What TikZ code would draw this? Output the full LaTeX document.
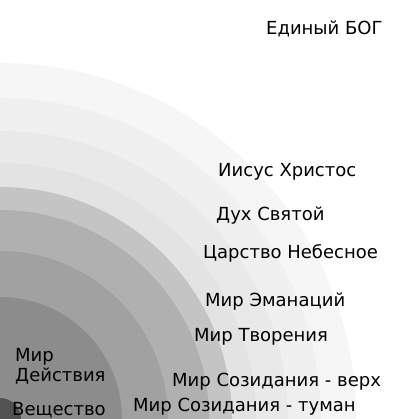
\documentclass[tikz,border=0pt]{standalone}
\usepackage{fontspec}
\setmainfont{DejaVu Sans}
\begin{document}
\begin{tikzpicture}[x=1pt,y=1pt,
  lbl/.style={anchor=base west, inner sep=0pt, font=\fontsize{18}{22}\selectfont, text=black}]
\useasboundingbox (0,0) rectangle (419,419);
\fill[white] (0,0) rectangle (419,419);
\begin{scope}
\clip (0,0) rectangle (419,419);
\fill[fill=black!3.5] (0,0) circle (356);
\fill[fill=black!6] (0,0) circle (321);
\fill[fill=black!8.5] (0,0) circle (288);
\fill[fill=black!11] (0,0) circle (256);
\fill[fill=black!23] (0,0) circle (232);
\fill[fill=black!31] (0,0) circle (209);
\fill[fill=black!37] (0,0) circle (168);
\fill[fill=black!45] (0,0) circle (122);
\fill[fill=black!68] (0,0) circle (21);
\end{scope}
\node[lbl] (god) at (266,384) {Единый БОГ};
\node[lbl] (jc) at (218,242) {Иисус Христос};
\node[lbl] (hs) at (216,198) {Дух Святой};
\node[lbl] (kh) at (203,160) {Царство Небесное};
\node[lbl] (em) at (205,112) {Мир Эманаций};
\node[lbl] (tv) at (194,77) {Мир Творения};
\node[lbl] (sv) at (172,32) {Мир Созидания - верх};
\node[lbl] (st) at (133,8) {Мир Созидания - туман};
\node[lbl] (mir) at (15,57) {Мир};
\node[lbl] (dey) at (15,37) {Действия};
\node[lbl] (ves) at (12,3) {Вещество};
\end{tikzpicture}
\end{document}
